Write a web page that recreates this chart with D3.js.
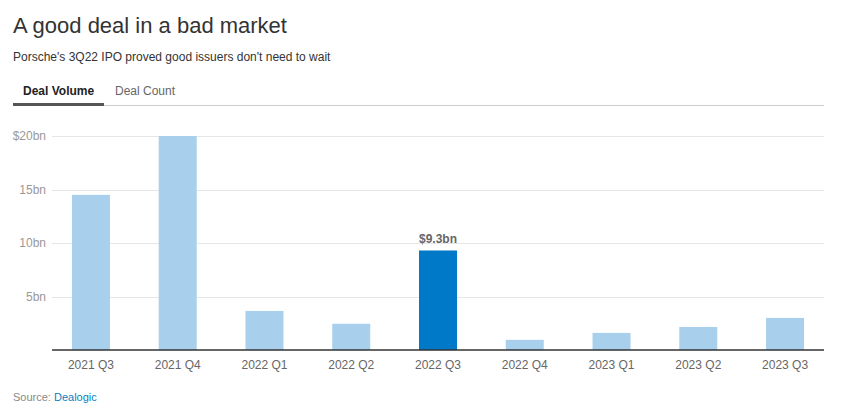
<!DOCTYPE html>
<html>
<head>
<meta charset="utf-8">
<script src="https://cdn.jsdelivr.net/npm/d3@7"></script>
<style>
  html, body { margin: 0; padding: 0; background: #fff; }
  svg { display: block; font-family: Arial, "Liberation Sans", Helvetica, sans-serif; }
</style>
</head>
<body>
<svg id="chart" width="843" height="417"></svg>
<script>
const categories = ["2021 Q3","2021 Q4","2022 Q1","2022 Q2","2022 Q3","2022 Q4","2023 Q1","2023 Q2","2023 Q3"];
const volumes = [14.5, 20.0, 3.65, 2.45, 9.3, 0.95, 1.6, 2.15, 3.0];
const highlight = "2022 Q3";
const highlightLabel = "$9.3bn";
const yTicks = [5, 10, 15, 20];
const yTickLabels = ["5bn", "10bn", "15bn", "$20bn"];
const tabs = ["Deal Volume", "Deal Count"];

const svg = d3.select("#chart");
const plotBottom = 350;

// Header
svg.append("text").attr("x", 13).attr("y", 33)
  .attr("font-size", 22).attr("fill", "#333").text("A good deal in a bad market");
svg.append("text").attr("x", 13).attr("y", 61)
  .attr("font-size", 12).attr("fill", "#333").text("Porsche's 3Q22 IPO proved good issuers don't need to wait");

// Tabs
svg.append("line").attr("x1", 13).attr("x2", 824).attr("y1", 105.5).attr("y2", 105.5)
  .attr("stroke", "#cccccc").attr("stroke-width", 1);
svg.append("rect").attr("x", 13).attr("y", 103).attr("width", 91).attr("height", 3).attr("fill", "#555");
svg.append("text").attr("x", 23).attr("y", 95).attr("font-size", 12).attr("font-weight", "bold")
  .attr("fill", "#222").text(tabs[0]);
svg.append("text").attr("x", 115).attr("y", 95).attr("font-size", 12)
  .attr("fill", "#666").text(tabs[1]);

// Scales
const x = d3.scaleBand().domain(categories).range([52, 824]).paddingInner(0.562).paddingOuter(0.23);
const y = d3.scaleLinear().domain([0, 20]).range([plotBottom, 136]);

// Gridlines
svg.append("g").selectAll("line").data(yTicks).join("line")
  .attr("x1", 52).attr("x2", 824)
  .attr("y1", d => Math.round(y(d)) + 0.5).attr("y2", d => Math.round(y(d)) + 0.5)
  .attr("stroke", "#e6e6e6").attr("stroke-width", 1);

// Y labels
svg.append("g").selectAll("text").data(yTicks).join("text")
  .attr("x", 46).attr("y", d => y(d)).attr("dy", "0.35em")
  .attr("text-anchor", "end").attr("font-size", 12).attr("fill", "#999")
  .text((d, i) => yTickLabels[i]);

// Bars
svg.append("g").selectAll("rect").data(categories).join("rect")
  .attr("x", d => x(d)).attr("width", x.bandwidth())
  .attr("y", (d, i) => y(volumes[i])).attr("height", (d, i) => y(0) - y(volumes[i]))
  .attr("fill", d => d === highlight ? "#0079c8" : "#a8d0ec");

// Highlight label
const hi = categories.indexOf(highlight);
svg.append("text").attr("x", x(highlight) + x.bandwidth() / 2).attr("y", y(volumes[hi]) - 7)
  .attr("text-anchor", "middle").attr("font-size", 12).attr("font-weight", "bold")
  .attr("fill", "#666").text(highlightLabel);

// X axis
const xAxis = svg.append("g").attr("transform", `translate(0,${plotBottom})`)
  .call(d3.axisBottom(x).tickSize(0).tickPadding(10));
xAxis.select(".domain").attr("stroke", "#333").attr("stroke-width", 1.5).attr("d", "M52,0H824");
xAxis.selectAll("text").attr("font-size", 12).attr("fill", "#666")
  .attr("font-family", 'Arial, "Liberation Sans", Helvetica, sans-serif');

// Source
const src = svg.append("text").attr("x", 13).attr("y", 401).attr("font-size", 11);
src.append("tspan").attr("fill", "#888").text("Source: ");
src.append("tspan").attr("fill", "#0a7fc2").text("Dealogic");
</script>
</body>
</html>
